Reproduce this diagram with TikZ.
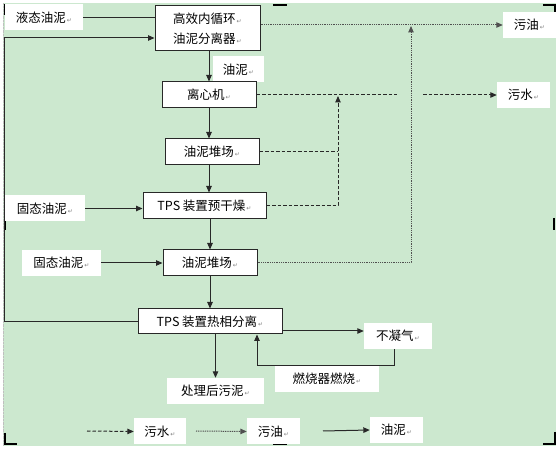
\documentclass[tikz,border=0pt]{standalone}
\usepackage{fontspec}
\setmainfont{Noto Sans CJK SC}
\newfontfamily\markfont{DejaVu Sans}
\usepackage{xcolor}
\usepackage{tikz}
\usetikzlibrary{arrows.meta}

\definecolor{bggreen}{RGB}{204,232,207}
\definecolor{linegray}{RGB}{40,40,40}
\definecolor{oilgray}{RGB}{80,80,80}
\newcommand{\parmark}{{\markfont\fontsize{6}{6}\selectfont\textcolor{gray}{\,↵}}}

\begin{document}
\begin{tikzpicture}[x=1pt,y=-1pt,
        >={Triangle[length=6.5pt,width=5.5pt]},
        font=\fontsize{12.5}{15}\selectfont,
        box/.style={draw=linegray, line width=1pt, fill=white, inner sep=0pt, minimum height=26pt},
        tag/.style={fill=white, inner sep=0pt, minimum height=26pt},
        flow/.style={draw=linegray, line width=1pt},
        water/.style={draw=linegray, line width=1pt, dash pattern=on 3.5pt off 2pt},
        oil/.style={draw=oilgray, line width=1pt, dash pattern=on 1pt off 0.8pt},
        cropmark/.style={line width=2pt}]
        \useasboundingbox (0,0) rectangle (558,449);

        % Background
        \fill[bggreen] (3,3) rectangle (556,446);
        \draw[gray!50, densely dotted] (3,3) -- (3,446);

        % Crop marks
        \draw[cropmark] (17,5) -- (5,5) -- (5,15);
        \draw[cropmark] (273,5) -- (287,5);
        \draw[cropmark] (543,5) -- (555,5) -- (555,15);
        \draw[cropmark] (5,218) -- (5,230);
        \draw[cropmark] (554,218) -- (554,230);
        \draw[cropmark] (5,433) -- (5,444) -- (17,444);
        \draw[cropmark] (273,444) -- (287,444);
        \draw[cropmark] (555,432) -- (555,444) -- (543,444);

        % Process chain
        \node[tag, minimum width=78pt] (ytai) at (44,17.5) {液态油泥\parmark};
        \node[box, minimum width=105pt, minimum height=45pt, align=center,
            font=\fontsize{12.5}{20}\selectfont] (sep) at (207.5,28.5) {高效内循环\parmark\\油泥分离器\parmark};
        \node[tag, minimum width=51pt] (yn) at (238.5,69.5) {油泥\parmark};
        \node[box, minimum width=94pt] (lxj) at (209,95) {离心机\parmark};
        \node[box, minimum width=94pt] (dc1) at (212,152) {油泥堆场\parmark};
        \node[box, minimum width=123pt] (ygz) at (204.5,206) {TPS 装置预干燥\parmark};
        \node[tag, minimum width=80pt] (gt1) at (45,208.5) {固态油泥\parmark};
        \node[box, minimum width=94pt] (dc2) at (210,263) {油泥堆场\parmark};
        \node[tag, minimum width=79pt] (gt2) at (61.5,263) {固态油泥\parmark};
        \node[box, minimum width=144pt, minimum height=25pt] (rx) at (210,321.5) {TPS 装置热相分离\parmark};
        \node[tag, minimum width=97pt] (clh) at (215.5,391) {处理后污泥\parmark};
        \node[tag, minimum width=68pt] (bnq) at (398,336) {不凝气\parmark};
        \node[tag, minimum width=104pt] (rsq) at (327,379) {燃烧器燃烧\parmark};

        % Outputs
        \node[tag, minimum width=53pt] (wy) at (529.5,25) {污油\parmark};
        \node[tag, minimum width=53pt] (ws) at (523.5,95) {污水\parmark};

        % Sludge flow
        \draw[flow] (ytai.east) -- (ytai.east -| sep.west);
        \draw[flow, ->] (rx.west) -| (4,38) -- ([yshift=-9.5pt]sep.west);
        \draw[flow, ->] (sep.south -| lxj.north) -- (lxj.north);
        \draw[flow, ->] (lxj.south) -- (lxj.south |- dc1.north);
        \draw[flow, ->] (dc1.south -| lxj.south) -- (lxj.south |- ygz.north);
        \draw[flow, ->] (ygz.south -| dc2.north) -- (dc2.north);
        \draw[flow, ->] (dc2.south) -- (rx.north);
        \draw[flow, ->] (gt1.east) -- (gt1.east -| ygz.west);
        \draw[flow, ->] (gt2.east) -- (dc2.west);
        \draw[flow, ->] (rx.south -| clh.north) -- (clh.north);
        \draw[flow, ->] ([yshift=-9.5pt]rx.east) -- ([yshift=-9.5pt]rx.east -| bnq.west);
        \draw[flow, ->] ([xshift=-4pt]bnq.south) -- ++(0,16) -| ([xshift=47pt]rx.south);

        % Water flow
        \draw[water] (lxj.east) -- (397,95);
        \draw[water, ->] (423,95) -- (ws.west);
        \draw[water] (dc1.east) -- (338,152);
        \draw[water, ->] (ygz.east) -| (338,96);

        % Oil flow
        \draw[oil, ->] (sep.east |- wy.west) -- (wy.west);
        \draw[oil, ->] (dc2.east) -| (411,26);

        % Legend
        \coordinate (k1) at (87,431);
        \coordinate (k2) at (196,431);
        \coordinate (k3) at (323,431);
        \node[tag, minimum width=52pt] (lg1) at (160,431.5) {污水\parmark};
        \node[tag, minimum width=53pt] (lg2) at (273.5,431.5) {污油\parmark};
        \node[tag, minimum width=53pt] (lg3) at (396.5,430) {油泥\parmark};
        \draw[water, ->] (k1) -- (lg1.west);
        \draw[oil, ->] (k2) -- (lg2.west);
        \draw[flow, ->] (k3) -- (lg3.west);
    \end{tikzpicture}
\end{document}
